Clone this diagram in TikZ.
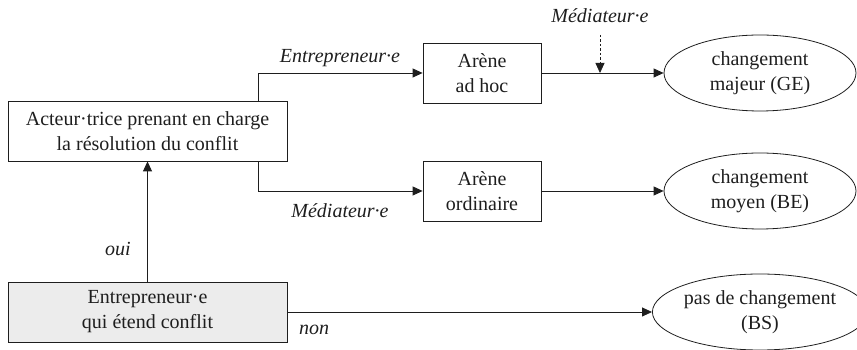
\documentclass[tikz,border=0pt]{standalone}
\usepackage{fontspec}
\setmainfont{Liberation Serif}
\usetikzlibrary{arrows.meta,positioning,shapes.geometric}
\definecolor{BoxGray}{RGB}{236,236,236}
\definecolor{LineDark}{RGB}{30,30,30}

\begin{document}
\begin{tikzpicture}[x=1pt,y=1pt,
  every node/.style={font=\fontsize{20}{25}\selectfont,align=center,text=LineDark},
  boite/.style={rectangle,draw=LineDark,line width=.8pt,inner sep=0pt,minimum height=60pt},
  issue/.style={ellipse,draw=LineDark,line width=.8pt,inner sep=0pt,minimum width=192pt,minimum height=76pt},
  fleche/.style={draw=LineDark,line width=.8pt,-{Triangle[length=10pt,width=9pt]}},
  etiq/.style={font=\fontsize{20}{25}\selectfont\itshape}]
\useasboundingbox (0,0) rectangle (857,350);
\node[boite,minimum width=279pt] (acteur) at (147.5,219){Acteur·trice prenant en charge\\la résolution du conflit};
\node[boite,minimum width=279pt,fill=BoxGray] (entrep) at (147.5,38){Entrepreneur·e\\qui étend conflit};
\node[boite,minimum width=118pt] (adhoc) at (482,277){Arène\\ad hoc};
\node[boite,minimum width=118pt] (ordin) at (482,159){Arène\\ordinaire};
\node[issue] (majeur) at (760,277){changement\\majeur (GE)};
\node[issue] (moyen) at (760,159){changement\\moyen (BE)};
\node[issue] (aucun) at (760,38){pas de changement\\(BS)};
\draw[fleche] (entrep.north) -- (acteur.south);
\draw[fleche] ([xshift=-29pt]acteur.north east) |- (adhoc.west);
\draw[fleche] ([xshift=-29pt]acteur.south east) |- (ordin.west);
\draw[fleche] (adhoc.east) -- (majeur.west);
\draw[fleche] (ordin.east) -- (moyen.west);
\draw[fleche] (entrep.east) -- (aucun.west);
\node[etiq] (medhaut) at (600,334){Médiateur·e};
\coordinate (meddep) at (600,315);
\coordinate (medarr) at (600,277);
\draw[fleche,dash pattern=on 2.5pt off 2pt] (meddep) -- (medarr);
\node[etiq] (lentrep) at (340,292){Entrepreneur·e};
\node[etiq] (lmed) at (340,139){Médiateur·e};
\node[etiq] (loui) at (118,101){oui};
\node[etiq] (lnon) at (314,20){non};
\end{tikzpicture}
\end{document}
